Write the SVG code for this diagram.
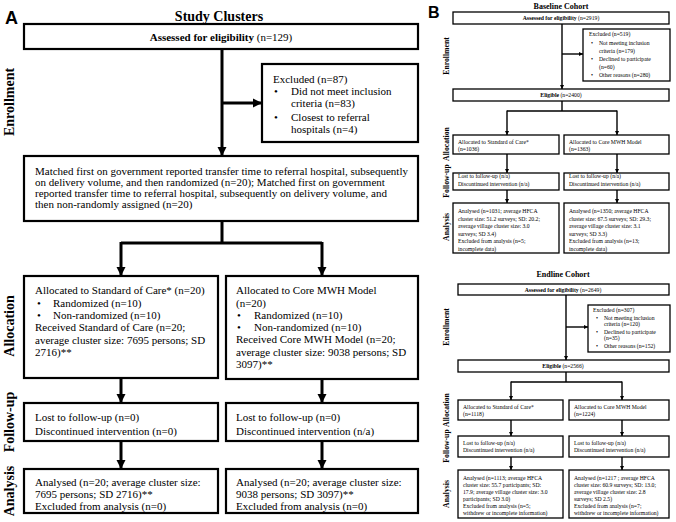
<svg xmlns="http://www.w3.org/2000/svg" width="676" height="522" viewBox="0 0 676 522">
<style>
.bg{fill:#fff}
.ba{fill:#fff;stroke:#000;stroke-width:2.2}
.bb{fill:#fff;stroke:#000;stroke-width:1.3}
.ca{fill:none;stroke:#000;stroke-width:3}
.cb{fill:none;stroke:#000;stroke-width:1.4}
text{font-family:"Liberation Serif","Times New Roman",serif;fill:#000}
.ta{font-size:11px}
.tb{font-size:5.7px}
.bold{font-weight:bold}
.side{font-size:14px;font-weight:bold;text-anchor:middle}
.sideb{font-size:7.7px;font-weight:bold;text-anchor:middle}
.panel{font-family:"Liberation Sans",Arial,sans-serif;font-weight:bold}
.mid{text-anchor:middle}
</style>
<defs>
<marker id="ha" markerUnits="userSpaceOnUse" markerWidth="10" markerHeight="10" refX="9" refY="5" orient="auto"><path d="M0,0.5 L9,5 L0,9.5 Z" fill="#000"/></marker>
<marker id="hb" markerUnits="userSpaceOnUse" markerWidth="5" markerHeight="5" refX="4.5" refY="2.5" orient="auto"><path d="M0,0.2 L4.5,2.5 L0,4.8 Z" fill="#000"/></marker>
</defs>
<rect class="bg" x="0" y="0" width="676" height="522"/>

<!-- Panel A -->
<text class="panel" x="5" y="24" font-size="18">A</text>
<text class="bold mid" x="219" y="21" font-size="14">Study Clusters</text>
<text class="side" transform="translate(14,102) rotate(-90)">Enrollment</text>
<text class="side" transform="translate(14,326) rotate(-90)">Allocation</text>
<text class="side" transform="translate(14,422) rotate(-90)">Follow-up</text>
<text class="side" transform="translate(14,491) rotate(-90)">Analysis</text>

<g id="connectors-a">
<path class="ca" d="M222,49 V156" marker-end="url(#ha)"/>
<path class="ca" d="M222,103 H262" marker-end="url(#ha)"/>
<path class="ca" d="M222,221 V243 M121,243 H322"/>
<path class="ca" d="M121,242 V276" marker-end="url(#ha)"/>
<path class="ca" d="M322,242 V276" marker-end="url(#ha)"/>
<path class="ca" d="M121,378 V403" marker-end="url(#ha)"/>
<path class="ca" d="M322,379 V403" marker-end="url(#ha)"/>
<path class="ca" d="M121,441 V469" marker-end="url(#ha)"/>
<path class="ca" d="M322,441 V469" marker-end="url(#ha)"/>
</g>

<g id="a-assessed">
<rect class="ba" x="24" y="24" width="394" height="25"/>
<text class="ta mid" x="221" y="41"><tspan class="bold">Assessed for eligibility</tspan> (n=129)</text>
</g>
<g id="a-excluded">
<rect class="ba" x="262" y="64" width="156" height="78"/>
<text class="ta" x="273" y="83">Excluded (n=87)</text>
<text class="ta" x="274" y="95">•</text><text class="ta" x="291" y="95">Did not meet inclusion</text>
<text class="ta" x="291" y="107">criteria (n=83)</text>
<text class="ta" x="274" y="121">•</text><text class="ta" x="291" y="121">Closest to referral</text>
<text class="ta" x="291" y="133">hospitals (n=4)</text>
</g>
<g id="a-matched">
<rect class="ba" x="24" y="156" width="394" height="65"/>
<text class="ta" x="35" y="175">Matched first on government reported transfer time to referral hospital, subsequently</text>
<text class="ta" x="35" y="186">on delivery volume, and then randomized (n=20); Matched first on government</text>
<text class="ta" x="35" y="197">reported transfer time to referral hospital, subsequently on delivery volume, and</text>
<text class="ta" x="35" y="208">then non-randomly assigned (n=20)</text>
</g>
<g id="a-alloc-soc">
<rect class="ba" x="24" y="276" width="194" height="102"/>
<text class="ta" x="35" y="294">Allocated to Standard of Care* (n=20)</text>
<text class="ta" x="37" y="307">•</text><text class="ta" x="53" y="307">Randomized (n=10)</text>
<text class="ta" x="37" y="319">•</text><text class="ta" x="53" y="319">Non-randomized (n=10)</text>
<text class="ta" x="35" y="331">Received Standard of Care (n=20;</text>
<text class="ta" x="35" y="344">average cluster size: 7695 persons; SD</text>
<text class="ta" x="35" y="356">2716)**</text>
</g>
<g id="a-alloc-mwh">
<rect class="ba" x="226" y="276" width="192" height="103"/>
<text class="ta" x="236" y="294">Allocated to Core MWH Model</text>
<text class="ta" x="236" y="307">(n=20)</text>
<text class="ta" x="237" y="319">•</text><text class="ta" x="254" y="319">Randomized (n=10)</text>
<text class="ta" x="237" y="331">•</text><text class="ta" x="254" y="331">Non-randomized (n=10)</text>
<text class="ta" x="236" y="343">Received Core MWH Model (n=20;</text>
<text class="ta" x="236" y="356">average cluster size: 9038 persons; SD</text>
<text class="ta" x="236" y="368">3097)**</text>
</g>
<g id="a-follow-soc">
<rect class="ba" x="24" y="403" width="194" height="38"/>
<text class="ta" x="35" y="421">Lost to follow-up (n=0)</text>
<text class="ta" x="35" y="435">Discontinued intervention (n=0)</text>
</g>
<g id="a-follow-mwh">
<rect class="ba" x="226" y="403" width="192" height="38"/>
<text class="ta" x="236" y="421">Lost to follow-up (n=0)</text>
<text class="ta" x="236" y="435">Discontinued intervention (n/a)</text>
</g>
<g id="a-analysis-soc">
<rect class="ba" x="24" y="469" width="194" height="44"/>
<text class="ta" x="35" y="486">Analysed (n=20; average cluster size:</text>
<text class="ta" x="35" y="498">7695 persons; SD 2716)**</text>
<text class="ta" x="35" y="510">Excluded from analysis (n=0)</text>
</g>
<g id="a-analysis-mwh">
<rect class="ba" x="226" y="469" width="192" height="44"/>
<text class="ta" x="236" y="486">Analysed (n=20; average cluster size:</text>
<text class="ta" x="236" y="498">9038 persons; SD 3097)**</text>
<text class="ta" x="236" y="510">Excluded from analysis (n=0)</text>
</g>

<!-- Panel B -->
<text class="panel" x="428" y="18" font-size="16">B</text>
<text class="bold mid" x="561" y="9" font-size="8">Baseline Cohort</text>
<text class="sideb" transform="translate(449,56) rotate(-90)">Enrollment</text>
<text class="sideb" transform="translate(449,144) rotate(-90)">Allocation</text>
<text class="sideb" transform="translate(449,181) rotate(-90)">Follow-up</text>
<text class="sideb" transform="translate(449,227) rotate(-90)">Analysis</text>

<g id="connectors-b1">
<path class="cb" d="M562,24 V89" marker-end="url(#hb)"/>
<path class="cb" d="M562,54 H583" marker-end="url(#hb)"/>
<path class="cb" d="M562,101 V111 M507,111 H617"/>
<path class="cb" d="M507,110.5 V135" marker-end="url(#hb)"/>
<path class="cb" d="M617,110.5 V135" marker-end="url(#hb)"/>
<path class="cb" d="M507,154 V173" marker-end="url(#hb)"/>
<path class="cb" d="M617,154 V173" marker-end="url(#hb)"/>
<path class="cb" d="M507,190 V203" marker-end="url(#hb)"/>
<path class="cb" d="M617,190 V203" marker-end="url(#hb)"/>
</g>
<g id="b1-assessed">
<rect class="bb" x="453" y="12" width="216" height="12"/>
<text class="tb mid" x="561" y="20.3"><tspan class="bold">Assessed for eligibility</tspan> (n=2919)</text>
</g>
<g id="b1-excluded">
<rect class="bb" x="583" y="29" width="87" height="52"/>
<text class="tb" x="589" y="36">Excluded (n=519)</text>
<text class="tb" x="591" y="45">•</text><text class="tb" x="599" y="45">Not meeting inclusion</text>
<text class="tb" x="599" y="53">criteria (n=179)</text>
<text class="tb" x="591" y="61">•</text><text class="tb" x="599" y="61">Declined to participate</text>
<text class="tb" x="599" y="69">(n=60)</text>
<text class="tb" x="591" y="77">•</text><text class="tb" x="599" y="77">Other reasons (n=280)</text>
</g>
<g id="b1-eligible">
<rect class="bb" x="453" y="89" width="216" height="12"/>
<text class="tb mid" x="561" y="97"><tspan class="bold">Eligible</tspan> (n=2400)</text>
</g>
<g id="b1-alloc-soc">
<rect class="bb" x="453" y="135" width="106" height="19"/>
<text class="tb" x="458" y="144">Allocated to Standard of Care*</text>
<text class="tb" x="458" y="151">(n=1036)</text>
</g>
<g id="b1-alloc-mwh">
<rect class="bb" x="564" y="135" width="105" height="19"/>
<text class="tb" x="569" y="144">Allocated to Core MWH Model</text>
<text class="tb" x="569" y="151">(n=1363)</text>
</g>
<g id="b1-follow-soc">
<rect class="bb" x="453" y="173" width="106" height="17"/>
<text class="tb" x="458" y="178">Lost to follow-up (n/a)</text>
<text class="tb" x="458" y="185.5">Discontinued intervention (n/a)</text>
</g>
<g id="b1-follow-mwh">
<rect class="bb" x="564" y="173" width="105" height="17"/>
<text class="tb" x="569" y="178">Lost to follow-up (n/a)</text>
<text class="tb" x="569" y="185.5">Discontinued intervention (n/a)</text>
</g>
<g id="b1-analysis-soc">
<rect class="bb" x="453" y="203" width="106" height="50"/>
<text class="tb" x="458" y="213">Analysed (n=1031; average HFCA</text>
<text class="tb" x="458" y="220.5">cluster size: 51.2 surveys; SD: 20.2;</text>
<text class="tb" x="458" y="228">average village cluster size: 3.0</text>
<text class="tb" x="458" y="235.5">surveys; SD 3.4)</text>
<text class="tb" x="458" y="243">Excluded from analysis (n=5;</text>
<text class="tb" x="458" y="250.5">incomplete data)</text>
</g>
<g id="b1-analysis-mwh">
<rect class="bb" x="564" y="203" width="105" height="50"/>
<text class="tb" x="569" y="213">Analysed (n=1350; average HFCA</text>
<text class="tb" x="569" y="220.5">cluster size: 67.5 surveys; SD: 29.3;</text>
<text class="tb" x="569" y="228">average village cluster size: 3.1</text>
<text class="tb" x="569" y="235.5">surveys; SD 3.3)</text>
<text class="tb" x="569" y="243">Excluded from analysis (n=13;</text>
<text class="tb" x="569" y="250.5">incomplete data)</text>
</g>

<text class="bold mid" x="563" y="277" font-size="8">Endline Cohort</text>
<text class="sideb" transform="translate(449,327) rotate(-90)">Enrollment</text>
<text class="sideb" transform="translate(449,410) rotate(-90)">Allocation</text>
<text class="sideb" transform="translate(449,446) rotate(-90)">Follow-up</text>
<text class="sideb" transform="translate(449,494) rotate(-90)">Analysis</text>

<g id="connectors-b2">
<path class="cb" d="M566,295 V360" marker-end="url(#hb)"/>
<path class="cb" d="M566,327 H588" marker-end="url(#hb)"/>
<path class="cb" d="M566,372 V382 M511,382 H622"/>
<path class="cb" d="M511,381.5 V400" marker-end="url(#hb)"/>
<path class="cb" d="M622,381.5 V400" marker-end="url(#hb)"/>
<path class="cb" d="M511,420 V436" marker-end="url(#hb)"/>
<path class="cb" d="M622,420 V436" marker-end="url(#hb)"/>
<path class="cb" d="M511,457 V470" marker-end="url(#hb)"/>
<path class="cb" d="M622,457 V470" marker-end="url(#hb)"/>
</g>
<g id="b2-assessed">
<rect class="bb" x="458" y="284" width="211" height="11"/>
<text class="tb mid" x="563" y="291.8"><tspan class="bold">Assessed for eligibility</tspan> (n=2649)</text>
</g>
<g id="b2-excluded">
<rect class="bb" x="588" y="305" width="82" height="47"/>
<text class="tb" x="593" y="312">Excluded (n=307)</text>
<text class="tb" x="596" y="319.5">•</text><text class="tb" x="604" y="319.5">Not meeting inclusion</text>
<text class="tb" x="604" y="326">criteria (n=120)</text>
<text class="tb" x="596" y="333.5">•</text><text class="tb" x="604" y="333.5">Declined to participate</text>
<text class="tb" x="604" y="340">(n=35)</text>
<text class="tb" x="596" y="347.5">•</text><text class="tb" x="604" y="347.5">Other reasons (n=152)</text>
</g>
<g id="b2-eligible">
<rect class="bb" x="458" y="360" width="211" height="12"/>
<text class="tb mid" x="563" y="368"><tspan class="bold">Eligible</tspan> (n=2566)</text>
</g>
<g id="b2-alloc-soc">
<rect class="bb" x="458" y="400" width="105" height="20"/>
<text class="tb" x="463" y="409">Allocated to Standard of Care*</text>
<text class="tb" x="463" y="416">(n=1118)</text>
</g>
<g id="b2-alloc-mwh">
<rect class="bb" x="569" y="400" width="100" height="20"/>
<text class="tb" x="574" y="409">Allocated to Core MWH Model</text>
<text class="tb" x="574" y="416">(n=1224)</text>
</g>
<g id="b2-follow-soc">
<rect class="bb" x="458" y="436" width="105" height="21"/>
<text class="tb" x="463" y="445">Lost to follow-up (n/a)</text>
<text class="tb" x="463" y="452">Discontinued intervention (n/a)</text>
</g>
<g id="b2-follow-mwh">
<rect class="bb" x="569" y="436" width="100" height="21"/>
<text class="tb" x="574" y="445">Lost to follow-up (n/a)</text>
<text class="tb" x="574" y="452">Discontinued intervention (n/a)</text>
</g>
<g id="b2-analysis-soc">
<rect class="bb" x="458" y="470" width="105" height="48"/>
<text class="tb" x="463" y="480">Analysed (n=1113; average HFCA</text>
<text class="tb" x="463" y="487">cluster size: 55.7 participants; SD:</text>
<text class="tb" x="463" y="494">17.9; average village cluster size: 3.0</text>
<text class="tb" x="463" y="501">participants; SD 3.0)</text>
<text class="tb" x="463" y="508">Excluded from analysis (n=5;</text>
<text class="tb" x="463" y="515">withdrew or incomplete information)</text>
</g>
<g id="b2-analysis-mwh">
<rect class="bb" x="569" y="470" width="100" height="48"/>
<text class="tb" x="574" y="480">Analysed (n=1217 ; average HFCA</text>
<text class="tb" x="574" y="487">cluster size: 60.9 surveys; SD: 13.0;</text>
<text class="tb" x="574" y="494">average village cluster size: 2.8</text>
<text class="tb" x="574" y="501">surveys; SD 2.5)</text>
<text class="tb" x="574" y="508">Excluded from analysis (n=7;</text>
<text class="tb" x="574" y="515">withdrew or incomplete information)</text>
</g>
</svg>
